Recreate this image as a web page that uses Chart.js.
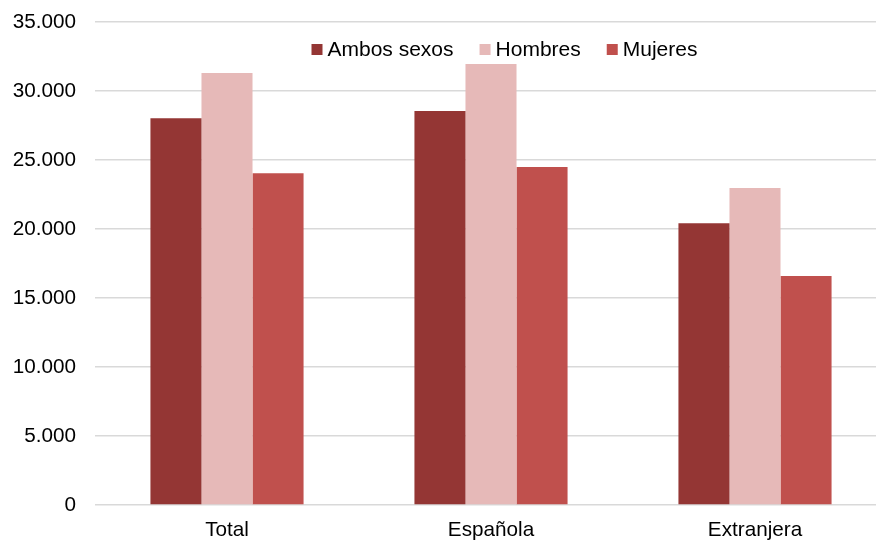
<!DOCTYPE html>
<html>
<head>
<meta charset="utf-8">
<script src="https://cdn.jsdelivr.net/npm/chart.js@4"></script>
<style>
  html, body { margin: 0; padding: 0; background: #fff; overflow: hidden; width: 876px; height: 540px; }
  #wrap { width: 876px; height: 540px; overflow: hidden; position: relative; }
  canvas { display: block; }
</style>
</head>
<body>
<div id="wrap"><canvas id="c" width="887" height="540"></canvas></div>
<script>
const categories = ['Total', 'Española', 'Extranjera'];
const seriesNames = ['Ambos sexos', 'Hombres', 'Mujeres'];
const ambosSexos = [28020, 28550, 20410];
const hombres = [31300, 31960, 22970];
const mujeres = [24040, 24500, 16590];
const yTicks = [0, 5000, 10000, 15000, 20000, 25000, 30000, 35000];
const colors = ['#943634', '#E6B9B8', '#C0504D'];

const FONT = "'Liberation Sans', Arial, sans-serif";
const FS = 20.7;

function fmt(v) {
  return String(Math.round(v)).replace(/\B(?=(\d{3})+(?!\d))/g, '.');
}

const legendPlugin = {
  id: 'customLegend',
  afterDraw(chart) {
    const ctx = chart.ctx;
    ctx.save();
    ctx.font = '21px ' + FONT;
    ctx.textBaseline = 'middle';
    ctx.textAlign = 'left';
    let x = 311.5;
    const y = 49.5;
    const box = 11;
    chart.data.datasets.forEach((ds, i) => {
      ctx.fillStyle = ds.backgroundColor;
      ctx.fillRect(x, y - box / 2, box, box);
      const tx = x + box + 5;
      ctx.fillStyle = '#000';
      ctx.fillText(ds.label, tx, y + 1);
      x = tx + ctx.measureText(ds.label).width + 26;
    });
    ctx.restore();
  }
};

new Chart(document.getElementById('c'), {
  type: 'bar',
  data: {
    labels: categories,
    datasets: [
      { label: seriesNames[0], data: ambosSexos, backgroundColor: colors[0] },
      { label: seriesNames[1], data: hombres, backgroundColor: colors[1] },
      { label: seriesNames[2], data: mujeres, backgroundColor: colors[2] }
    ]
  },
  options: {
    responsive: false,
    animation: false,
    layout: { padding: { top: 22, right: 0, left: 0, bottom: 0 } },
    datasets: { bar: { categoryPercentage: 0.58, barPercentage: 1.0, borderWidth: 0 } },
    plugins: {
      legend: { display: false },
      tooltip: { enabled: false },
      title: { display: false }
    },
    scales: {
      x: {
        grid: { display: false, drawTicks: false },
        border: { display: false },
        ticks: { color: '#000', font: { family: FONT, size: FS }, padding: 13, maxRotation: 0 },
        afterFit(scale) { scale.height = 35; scale.paddingLeft = 0; scale.paddingRight = 0; }
      },
      y: {
        min: 0,
        max: 35000,
        afterBuildTicks(scale) { scale.ticks = yTicks.map(v => ({ value: v })); },
        grid: { color: '#D9D9D9', lineWidth: 1.5, drawTicks: false },
        border: { display: false },
        ticks: {
          color: '#000',
          font: { family: FONT, size: FS },
          padding: 19,
          callback: (v) => fmt(v)
        },
        afterFit(scale) { scale.width = 95; scale.paddingTop = 0; scale.paddingBottom = 0; }
      }
    }
  },
  plugins: [legendPlugin]
});
</script>
</body>
</html>
